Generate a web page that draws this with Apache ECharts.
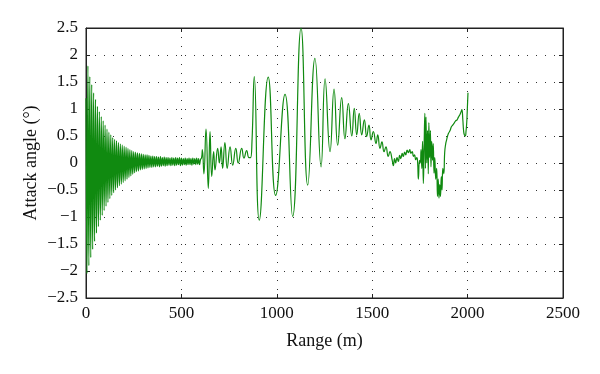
<!DOCTYPE html>
<html>
<head>
<meta charset="utf-8">
<script src="https://cdn.jsdelivr.net/npm/echarts@6/dist/echarts.min.js"></script>
<style>html,body{margin:0;padding:0;background:#fff}#c{width:600px;height:374px}</style>
</head>
<body>
<div id="c"></div>
<script>
// Range (m), attack angle (deg) pairs
var decayPhase = [[0,1.2],[5,-2.05],[10,1.8],[15,-1.9],[20,1.6],[25,-1.75],[30,1.45],[35,-1.6],[40,1.3],[45,-1.45],[50,1.18],[55,-1.3],[60,1.05],[65,-1.18],[70,0.95],[75,-1.06],[80,0.86],[85,-0.97],[90,0.78],[95,-0.88],[100,0.7],[105,-0.8],[110,0.63],[115,-0.73],[120,0.57],[125,-0.66],[130,0.52],[135,-0.6],[140,0.47],[145,-0.55],[150,0.44],[155,-0.5],[160,0.41],[165,-0.46],[170,0.38],[175,-0.42],[180,0.35],[185,-0.39],[190,0.33],[195,-0.36],[200,0.31],[205,-0.33],[210,0.29],[215,-0.3],[220,0.27],[225,-0.27],[230,0.25],[235,-0.24],[240,0.23],[245,-0.21],[250,0.21]];
var steadyPhase = [[255,-0.18],[260,0.2],[265,-0.16],[270,0.19],[275,-0.15],[280,0.18],[285,-0.13],[290,0.17],[295,-0.12],[300,0.16],[305,-0.11],[310,0.15],[315,-0.1],[320,0.15],[325,-0.09],[330,0.14],[335,-0.08],[340,0.13],[345,-0.08],[350,0.13],[355,-0.07],[360,0.12],[365,-0.07],[370,0.12],[375,-0.06],[380,0.11],[385,-0.07],[390,0.12],[395,-0.06],[400,0.1],[405,-0.05],[410,0.11],[415,-0.06],[420,0.1],[425,-0.05],[430,0.1],[435,-0.04],[440,0.09],[445,-0.05],[450,0.1],[455,-0.04],[460,0.09],[465,-0.05],[470,0.1],[475,-0.04],[480,0.09],[485,-0.03],[490,0.1],[495,-0.05],[500,0.09],[505,-0.04],[510,0.08],[515,-0.03],[520,0.09],[525,-0.04],[530,0.08],[535,-0.03],[540,0.09],[545,-0.03],[550,0.08],[555,-0.04],[560,0.09],[565,-0.02],[570,0.08],[575,-0.03],[580,0.09],[585,-0.02],[590,0.08],[595,-0.03],[600,0.06]];
var transitionPhase = [[606,0.1],[610,0.25],[618,-0.2],[629,0.63],[641,-0.47],[650,0.58],[659,-0.25],[669,0.21],[676,-0.13],[690,0.27],[699,0.0],[708,0.3],[716,-0.1],[728,0.38],[740,-0.1],[755,0.3],[769,-0.04],[785,0.27],[798,0.0],[816,0.27],[828,0.09],[842,0.23],[854,0.1],[862,0.1],[870,0.4]];
var oscillationPhase = [[882,1.6],[908,-1.06],[955,1.59],[994,-0.6],[1043,1.27],[1083,-0.99],[1127,2.5],[1162,-0.41],[1200,1.94],[1232,-0.07],[1253,1.56],[1279,0.21],[1300,1.37],[1319,0.33],[1340,1.21],[1357,0.45],[1375,1.1],[1393,0.5],[1406,1.01],[1419,0.52],[1432,0.92],[1445,0.52],[1459,0.8],[1471,0.49],[1483,0.7],[1494,0.43],[1506,0.58],[1520,0.36],[1529,0.52],[1541,0.27],[1551,0.39],[1562,0.21],[1572,0.3],[1584,0.12],[1593,0.21],[1605,0.05]];
var plateauPhase = [[1611,-0.05],[1617,0.08],[1623,0.0],[1630,0.1],[1637,0.03],[1644,0.14],[1650,0.08],[1657,0.18],[1663,0.12],[1670,0.2],[1676,0.15],[1683,0.24],[1690,0.19],[1697,0.25],[1703,0.18],[1710,0.21],[1716,0.12],[1722,0.15],[1728,0.06],[1734,0.1],[1738,0.02],[1742,-0.3]];
var turbulentPhase = [[1748,0.05],[1752,0.0],[1756,0.25],[1760,-0.1],[1764,0.4],[1768,-0.38],[1772,0.3],[1776,0.92],[1779,-0.1],[1782,0.85],[1786,0.0],[1790,0.6],[1794,-0.2],[1797,0.75],[1801,0.1],[1805,0.6],[1808,-0.07],[1812,0.4],[1816,0.05],[1820,0.36],[1824,-0.19],[1828,0.1],[1833,-0.3],[1838,-0.1],[1842,-0.62],[1846,-0.3],[1850,-0.65],[1854,-0.4],[1858,-0.62],[1862,-0.25],[1866,-0.5],[1870,-0.1],[1875,-0.2],[1880,0.2]];
var recoveryPhase = [[1885,0.35],[1890,0.43],[1895,0.5],[1900,0.55],[1908,0.6],[1915,0.67],[1922,0.7],[1930,0.74],[1937,0.78],[1945,0.8],[1952,0.85],[1960,0.9],[1966,0.95],[1970,0.99],[1975,0.8],[1979,0.6],[1983,0.52],[1988,0.5],[1992,0.6],[1995,0.72],[1998,0.95],[2002,1.3]];

var xTicks = {min: 0, max: 2500, interval: 500};
var yTicks = {min: -2.5, max: 2.5, interval: 0.5};

var allData = [].concat(decayPhase, steadyPhase, transitionPhase, oscillationPhase, plateauPhase, turbulentPhase, recoveryPhase);

var FONT = 'Liberation Serif';
var gridDots = {show: true, lineStyle: {color: '#333', width: 1, type: [1, 8]}};
function fmt(v){ return String(v).replace('-', '\u2212'); }

var chart = echarts.init(document.getElementById('c'), null, {renderer: 'canvas'});
chart.setOption({
  backgroundColor: '#fff',
  animation: false,
  grid: {left: 86, right: 37, top: 28, bottom: 76, show: true, borderColor: '#222', borderWidth: 1, backgroundColor: 'transparent'},
  xAxis: [{
    type: 'value', min: xTicks.min, max: xTicks.max, interval: xTicks.interval,
    name: 'Range (m)', nameLocation: 'middle', nameGap: 34, nameMoveOverlap: false,
    nameTextStyle: {fontFamily: FONT, fontSize: 18, color: '#111'},
    axisLine: {show: true, onZero: false, lineStyle: {color: '#222', width: 1}},
    axisTick: {show: true, inside: true, length: 4, lineStyle: {color: '#222'}},
    axisLabel: {fontFamily: FONT, fontSize: 17, color: '#111', margin: 7, formatter: fmt},
    splitLine: gridDots
  }, {
    type: 'value', position: 'top', min: xTicks.min, max: xTicks.max, interval: xTicks.interval,
    axisLine: {show: true, onZero: false, lineStyle: {color: '#222'}},
    axisTick: {show: true, inside: true, length: 4, lineStyle: {color: '#222'}},
    axisLabel: {show: false}, splitLine: {show: false}
  }],
  yAxis: [{
    type: 'value', min: yTicks.min, max: yTicks.max, interval: yTicks.interval,
    name: 'Attack angle (\u00b0)', nameLocation: 'middle', nameGap: 46, nameMoveOverlap: false,
    nameTextStyle: {fontFamily: FONT, fontSize: 18, color: '#111'},
    axisLine: {show: true, onZero: false, lineStyle: {color: '#222', width: 1}},
    axisTick: {show: true, inside: true, length: 4, lineStyle: {color: '#222'}},
    axisLabel: {fontFamily: FONT, fontSize: 17, color: '#111', margin: 8, formatter: fmt},
    splitLine: gridDots
  }, {
    type: 'value', position: 'right', min: yTicks.min, max: yTicks.max, interval: yTicks.interval,
    axisLine: {show: true, onZero: false, lineStyle: {color: '#222'}},
    axisTick: {show: true, inside: true, length: 4, lineStyle: {color: '#222'}},
    axisLabel: {show: false}, splitLine: {show: false}
  }],
  series: [{
    type: 'line', data: allData, showSymbol: false, smooth: 0.5,
    lineStyle: {color: '#108a10', width: 1.2}, clip: true
  }]
});
</script>
</body>
</html>
